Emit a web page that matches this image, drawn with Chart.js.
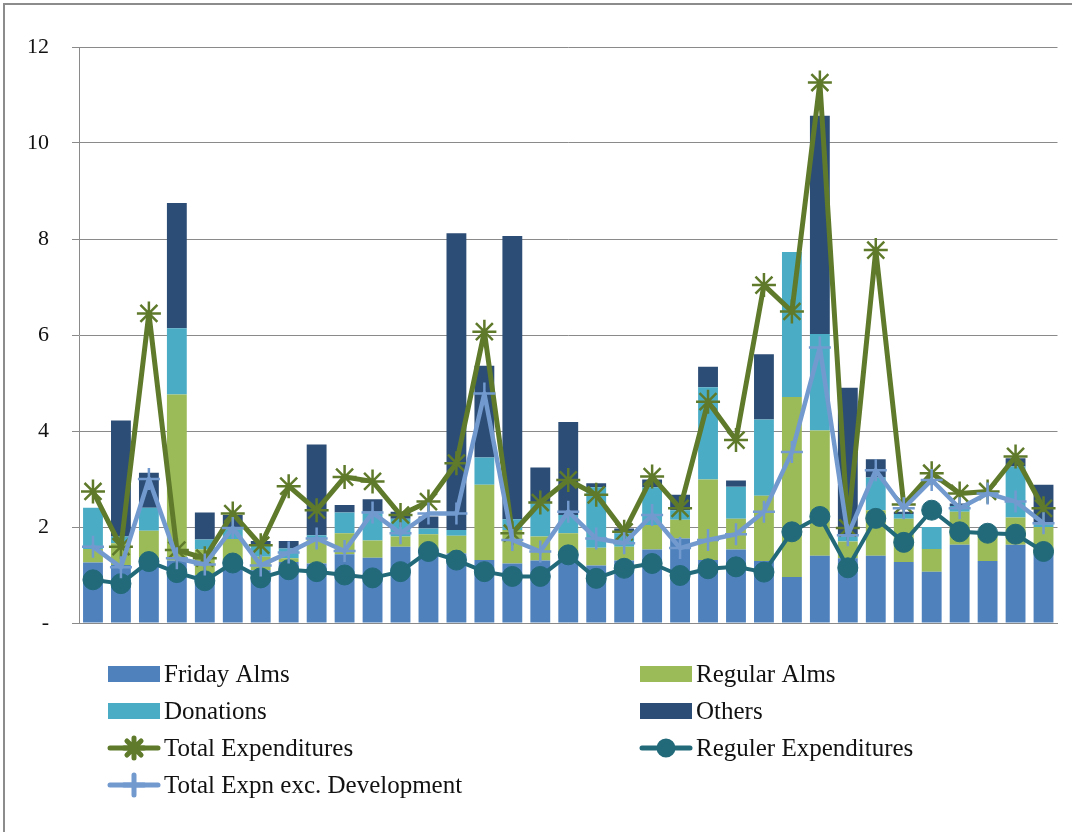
<!DOCTYPE html>
<html>
<head>
<meta charset="utf-8">
<title>Income and expenditure</title>
<script src="https://cdn.jsdelivr.net/npm/chart.js@4.4.1/dist/chart.umd.min.js"></script>
<style>
    html, body { margin: 0; padding: 0; background: #fff; overflow: hidden; }
    #wrap { position: relative; width: 1072px; height: 832px; overflow: hidden; }
    #frame { position: absolute; left: 3px; top: 3px; width: 1200px; height: 1000px; border: 2px solid #8c8c8c; pointer-events: none; }
</style>
</head>
<body>
<div id="wrap">
    <canvas id="chart" width="1072" height="832"></canvas>
    <div id="frame"></div>
</div>
<script>
// one entry per period (the axis carries no labels in the original)
const periods = ['1', '2', '3', '4', '5', '6', '7', '8', '9', '10', '11', '12', '13', '14', '15', '16', '17', '18',
    '19', '20', '21', '22', '23', '24', '25', '26', '27', '28', '29', '30', '31', '32', '33', '34', '35'];

const fridayAlms = [1.26, 1.21, 1.35, 1.30, 1.00, 1.30, 1.10, 1.27, 1.24, 1.43, 1.36, 1.59, 1.55, 1.45, 1.31, 1.24, 1.30, 1.45,
    1.20, 1.30, 1.53, 1.76, 1.31, 1.53, 1.29, 0.96, 1.40, 1.35, 1.40, 1.27, 1.07, 1.63, 1.29, 1.63, 1.45];
const regularAlms = [0.28, 0.45, 0.57, 3.46, 0.53, 0.45, 0.28, 0.08, 0.52, 0.44, 0.36, 0.21, 0.30, 0.37, 1.57, 0.70, 0.50, 0.42,
    0.37, 0.29, 0.51, 0.39, 1.68, 0.64, 1.36, 3.75, 2.61, 0.35, 0.95, 0.90, 0.47, 0.69, 0.58, 0.57, 0.55];
const donations = [0.86, 0.14, 0.48, 1.38, 0.21, 0.20, 0.23, 0.20, 0.07, 0.43, 0.60, 0.37, 0.12, 0.12, 0.57, 0.22, 0.69, 0.38,
    1.26, 0.28, 0.79, 0.20, 1.92, 0.67, 1.59, 3.02, 2.01, 0.10, 0.68, 0.10, 0.46, 0.12, 0.00, 1.06, 0.05];
const others = [0.00, 2.42, 0.73, 2.61, 0.56, 0.30, 0.10, 0.16, 1.89, 0.16, 0.26, 0.15, 0.25, 6.18, 1.91, 5.90, 0.75, 1.94,
    0.08, 0.10, 0.16, 0.32, 0.43, 0.13, 1.36, 0.00, 4.55, 3.10, 0.38, 0.05, 0.00, 0.05, 0.00, 0.17, 0.83];

const totalExp = [2.74, 1.59, 6.45, 1.52, 1.35, 2.28, 1.62, 2.85, 2.35, 3.04, 2.95, 2.25, 2.53, 3.33, 6.07, 1.87, 2.51, 2.98,
    2.67, 1.90, 3.05, 2.39, 4.61, 3.81, 7.04, 6.49, 11.26, 1.98, 7.77, 2.47, 3.12, 2.70, 2.74, 3.47, 2.39];
const regulerExp = [0.90, 0.82, 1.28, 1.05, 0.88, 1.25, 0.94, 1.11, 1.07, 1.00, 0.94, 1.07, 1.49, 1.31, 1.07, 0.97, 0.97, 1.42,
    0.93, 1.14, 1.24, 0.99, 1.13, 1.17, 1.06, 1.90, 2.22, 1.15, 2.18, 1.68, 2.35, 1.90, 1.87, 1.85, 1.49];
const totalExcDev = [1.59, 1.16, 3.00, 1.35, 1.22, 1.98, 1.20, 1.47, 1.76, 1.50, 2.30, 1.87, 2.28, 2.28, 4.78, 1.73, 1.49, 2.32,
    1.76, 1.66, 2.25, 1.56, 1.73, 1.85, 2.32, 3.56, 5.74, 1.83, 3.18, 2.39, 2.98, 2.39, 2.70, 2.53, 2.08];

const yTicks = [0, 2, 4, 6, 8, 10, 12];

const serif = '"Liberation Serif", "Times New Roman", serif';
const gridGrey = '#8a8a8a';

// Excel style legend: two columns, filled boxes for bars, line + marker for lines
const gridLegend = {
    id: 'gridLegend',
    afterDraw(chart) {
        const ctx = chart.ctx;
        const colX = [108, 640];
        const rowY = [674, 711, 748, 785];
        ctx.save();
        ctx.font = '25px ' + serif;
        ctx.textBaseline = 'middle';
        chart.data.datasets.forEach((ds, i) => {
            const x = colX[i % 2];
            const y = rowY[Math.floor(i / 2)];
            if (ds.type === 'line') {
                ctx.strokeStyle = ds.borderColor;
                ctx.lineWidth = 5;
                ctx.lineCap = 'round';
                ctx.beginPath();
                ctx.moveTo(x + 2, y);
                ctx.lineTo(x + 50, y);
                ctx.stroke();
                ctx.fillStyle = ds.pointBackgroundColor;
                ctx.strokeStyle = ds.pointBorderColor;
                Chart.helpers.drawPoint(ctx, {
                    pointStyle: ds.pointStyle,
                    radius: ds.pointStyle === 'circle' ? 7 : 10,
                    borderWidth: 1
                }, x + 26, y);
            } else {
                ctx.fillStyle = ds.backgroundColor;
                ctx.fillRect(x, y - 8, 52, 16);
            }
            ctx.fillStyle = '#111';
            ctx.fillText(ds.label, x + 56, y + 1);
        });
        ctx.restore();
    }
};

function barSet(label, values, color) {
    return {
        type: 'bar',
        label: label,
        data: values,
        backgroundColor: color,
        borderWidth: 0,
        stack: 'income',
        order: 10,
        categoryPercentage: 1.0,
        barPercentage: 0.71
    };
}

function lineSet(label, values, color, style, radius, width, order) {
    return {
        type: 'line',
        label: label,
        data: values,
        borderColor: color,
        borderWidth: width,
        borderJoinStyle: 'round',
        borderCapStyle: 'round',
        pointStyle: style,
        pointRadius: radius,
        pointBorderWidth: style === 'circle' ? 1 : 2.5,
        pointBackgroundColor: color,
        pointBorderColor: color,
        tension: 0,
        stack: label, // own stack so lines are not summed
        order: order
    };
}

const ctx = document.getElementById('chart').getContext('2d');
new Chart(ctx, {
    data: {
        labels: periods,
        datasets: [
            barSet('Friday Alms', fridayAlms, '#4f81bd'),
            barSet('Regular Alms', regularAlms, '#9bbb59'),
            barSet('Donations', donations, '#4bacc6'),
            barSet('Others', others, '#2c4d75'),
            lineSet('Total Expenditures', totalExp, '#5f7a2b', 'star', 12, 5, 3),
            lineSet('Reguler Expenditures', regulerExp, '#226a7a', 'circle', 10, 4, 2),
            lineSet('Total Expn exc. Development', totalExcDev, '#729acf', 'cross', 11, 4.5, 1)
        ]
    },
    options: {
        responsive: false,
        animation: false,
        layout: { padding: { left: 9, right: 9, top: 47, bottom: 209 } },
        plugins: {
            legend: { display: false },
            tooltip: { enabled: false }
        },
        scales: {
            x: {
                stacked: true,
                ticks: { display: false },
                grid: { display: false },
                border: { color: gridGrey, width: 1 },
                afterFit(scale) { scale.height = 0; }
            },
            y: {
                stacked: true,
                min: 0,
                max: 12,
                afterBuildTicks(scale) { scale.ticks = yTicks.map(v => ({ value: v })); },
                ticks: {
                    padding: 23,
                    color: '#111',
                    font: { family: serif, size: 22 },
                    callback: v => v === 0 ? '-' : v
                },
                grid: { color: gridGrey, lineWidth: 1, tickLength: 7 },
                border: { color: gridGrey, width: 1 },
                afterFit(scale) { scale.width = 70; }
            }
        }
    },
    plugins: [gridLegend]
});
</script>
</body>
</html>
